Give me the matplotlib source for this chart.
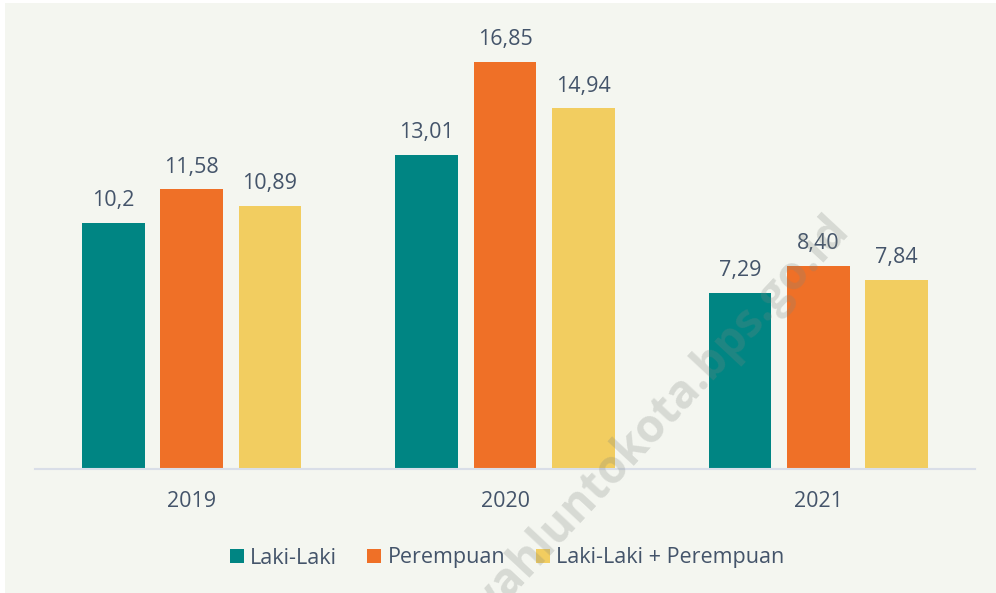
import matplotlib
matplotlib.use("Agg")
import matplotlib.pyplot as plt
import matplotlib.patches as mpatches
import numpy as np

# ── data ──────────────────────────────────────────────
years = ["2019", "2020", "2021"]
series_names = ["Laki-Laki", "Perempuan", "Laki-Laki + Perempuan"]
laki = [10.2, 13.01, 7.29]
perempuan = [11.58, 16.85, 8.40]
total = [10.89, 14.94, 7.84]
value_labels = [
    ["10,2", "13,01", "7,29"],
    ["11,58", "16,85", "8,40"],
    ["10,89", "14,94", "7,84"],
]

# ── style ─────────────────────────────────────────────
COLORS = ["#008583", "#ef7027", "#f2cd60"]
BG = "#f4f6f0"
TEXT = "#44546a"
FONT = ["Open Sans", "DejaVu Sans"]
plt.rcParams["font.family"] = FONT

W, H = 996, 593
fig = plt.figure(figsize=(W / 100, H / 100), dpi=100)
fig.patch.set_facecolor("white")
# panel background (thin white border on left / top)
fig.add_artist(mpatches.Rectangle((5 / W, 0), 1, 1 - 3 / H,
                                  transform=fig.transFigure,
                                  facecolor=BG, edgecolor="none", zorder=0))

ax_left, ax_right = 35 / W, 975 / W
ax_bot, ax_top = 1 - 469 / H, 1 - 20 / H
ax = fig.add_axes([ax_left, ax_bot, ax_right - ax_left, ax_top - ax_bot])
ax.set_facecolor("none")

x = np.arange(len(years))
width = 0.2
step = 0.25
all_series = [laki, perempuan, total]
for i, (vals, name) in enumerate(zip(all_series, series_names)):
    bars = ax.bar(x + (i - 1) * step, vals, width, color=COLORS[i],
                  label=name, zorder=2)
    for b, lab in zip(bars, value_labels[i]):
        ax.annotate(lab, (b.get_x() + b.get_width() / 2, b.get_height()),
                    xytext=(0, 12), textcoords="offset points",
                    ha="center", va="baseline", fontsize=15.5, color=TEXT)

ax.set_xlim(-0.5, 2.5)
ax.set_ylim(0, 449 / 24.15)
ax.set_xticks(x)
ax.set_xticklabels(years, fontsize=15.5, color=TEXT)
ax.tick_params(axis="x", length=0, pad=16)
ax.set_yticks([])
for s in ["top", "left", "right"]:
    ax.spines[s].set_visible(False)
ax.spines["bottom"].set_color("#d9dee8")
ax.spines["bottom"].set_linewidth(1.5)

fig.legend(loc="center", bbox_to_anchor=(507 / W, 1 - 558 / H), ncol=3,
           frameon=False, fontsize=15.5, labelcolor=TEXT,
           handlelength=0.65, handleheight=0.65, handletextpad=0.3,
           columnspacing=1.4)

# watermark (cut off at the bottom edge, as in the source)
fig.text(640 / W, 1 - 440 / H, "sawahluntokota.bps.go.id", rotation=47,
         ha="center", va="center", fontsize=33, fontweight="bold",
         color="#7f8580", alpha=0.25, zorder=10)

fig.savefig("out.png", dpi=100, facecolor=fig.get_facecolor())
